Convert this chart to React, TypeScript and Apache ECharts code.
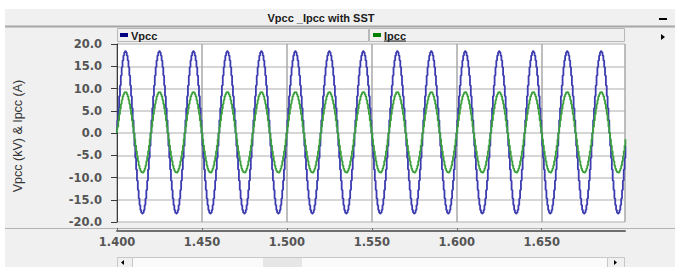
import React, { useEffect, useRef } from "react";
import * as echarts from "echarts";

// ---- data ----
const chartTitle = "Vpcc _Ipcc with SST";
const yAxisTitle = "Vpcc (kV) & Ipcc (A)";
const seriesNames = ["Vpcc", "Ipcc"];
const timeStart = 1.4; // s
const timeStep = 0.0005; // s, plot sampling step
const cycleCount = 15; // 50 Hz cycles visible between 1.400 and 1.699 s
const xMin = 1.4;
const xMax = 1.699;
const xInterval = 0.05;
const yMin = -20;
const yMax = 20;
const yInterval = 5;
// one 20 ms cycle of samples (0.5 ms apart) (identical for every cycle)
const vpccCycle = [
  0, 2.9, 5.6, 8.3, 10.7, 12.9, 14.8, 16.3, 17.4, 18.1,
  18.4, 18.1, 17.4, 16.3, 14.8, 12.9, 10.7, 8.3, 5.6, 2.9,
  0, -2.9, -5.6, -8.2, -10.7, -12.8, -14.7, -16.2, -17.3, -17.9,
  -18.1, -17.9, -17.3, -16.2, -14.7, -12.8, -10.7, -8.2, -5.6, -2.9,
];
const ipccCycle = [
  0, 1.4, 2.8, 4.2, 5.4, 6.5, 7.4, 8.2, 8.7, 9.1,
  9.2, 9.1, 8.7, 8.2, 7.4, 6.5, 5.4, 4.2, 2.8, 1.4,
  0, -1.4, -2.8, -4.1, -5.3, -6.3, -7.3, -8.0, -8.5, -8.8,
  -8.9, -8.8, -8.5, -8.0, -7.3, -6.3, -5.3, -4.1, -2.8, -1.4,
];

function buildSeries(cycle: number[]): [number, number][] {
  const out: [number, number][] = [];
  for (let c = 0; c < cycleCount; c++) {
    for (let k = 0; k < cycle.length; k++) {
      const i = c * cycle.length + k;
      out.push([+(timeStart + i * timeStep).toFixed(4), cycle[k]]);
    }
  }
  return out;
}

export default function App() {
  const ref = useRef<HTMLDivElement>(null);
  useEffect(() => {
    if (!ref.current) return;
    const chart = echarts.init(ref.current, undefined, { renderer: "svg" });
    const gL = 117, gT = 44, gW = 508, gH = 178;
    const labelFont = { fontFamily: "DejaVu Sans", fontWeight: "bold" as const, fontSize: 11.5, color: "#555555" };
    const option: any = {
      animation: false,
      backgroundColor: "#f0f0f0",
      grid: { left: gL, top: gT, width: gW, height: gH, show: true, backgroundColor: "#ffffff", borderWidth: 0 },
      xAxis: {
        type: "value",
        min: xMin,
        max: xMax,
        interval: xInterval,
        offset: 9,
        axisLine: { show: true, onZero: false, lineStyle: { color: "#6e6e6e", width: 2 } },
        axisTick: { show: true, inside: true, length: 3, lineStyle: { color: "#6e6e6e" } },
        axisLabel: { ...labelFont, margin: 5, showMaxLabel: false, formatter: (v: number) => v.toFixed(3) },
        splitLine: { show: true, lineStyle: { color: "#a8a8a8", width: 1.5 } },
      },
      yAxis: {
        type: "value",
        min: yMin,
        max: yMax,
        interval: yInterval,
        axisLine: { show: true, onZero: false, lineStyle: { color: "#3a3a3a", width: 1 } },
        axisTick: { show: true, length: 6, lineStyle: { color: "#3a3a3a" } },
        axisLabel: { ...labelFont, margin: 15, formatter: (v: number) => v.toFixed(1) },
        splitLine: { show: true, lineStyle: { color: "#c8c8c8", width: 1.5 } },
      },
      series: [
        {
          name: seriesNames[0],
          type: "line",
          step: "middle",
          showSymbol: false,
          data: buildSeries(vpccCycle),
          lineStyle: { color: "#3c3cb0", width: 1.8 },
          itemStyle: { color: "#3c3cb0" },
          z: 2,
        },
        {
          name: seriesNames[1],
          type: "line",
          step: "middle",
          showSymbol: false,
          data: buildSeries(ipccCycle),
          lineStyle: { color: "#3ca03c", width: 1.8 },
          itemStyle: { color: "#3ca03c" },
          z: 3,
        },
      ],
      graphic: [
        { type: "rect", shape: { x: 0, y: 0, width: 675, height: 9 }, style: { fill: "#ffffff" }, silent: true },
        { type: "rect", shape: { x: 0, y: 0, width: 5, height: 267 }, style: { fill: "#ffffff" }, silent: true },
        { type: "line", shape: { x1: 5, y1: 26.5, x2: 675, y2: 26.5 }, style: { stroke: "#a6a6a6", lineWidth: 2 }, silent: true },
        { type: "text", x: 321, y: 17.5, style: { text: chartTitle, font: "bold 11px 'Liberation Sans'", fill: "#1a1a1a", align: "center", verticalAlign: "middle" }, silent: true },
        { type: "rect", shape: { x: 659, y: 18, width: 8, height: 2 }, style: { fill: "#000000" }, silent: true },
        { type: "rect", shape: { x: 117.5, y: 28.5, width: 251, height: 13 }, style: { fill: "#f0f0f0", stroke: "#b8b8b8", lineWidth: 1 }, silent: true },
        { type: "rect", shape: { x: 369.5, y: 28.5, width: 255, height: 13 }, style: { fill: "#f0f0f0", stroke: "#b8b8b8", lineWidth: 1 }, silent: true },
        { type: "rect", shape: { x: 120, y: 33, width: 8, height: 4 }, style: { fill: "#000080" }, silent: true },
        { type: "text", x: 131, y: 35.5, style: { text: seriesNames[0], font: "bold 11px 'Liberation Sans'", fill: "#202020", align: "left", verticalAlign: "middle" }, silent: true },
        { type: "rect", shape: { x: 373, y: 33, width: 8, height: 4 }, style: { fill: "#008000" }, silent: true },
        { type: "text", x: 384, y: 35.5, style: { text: seriesNames[1], font: "bold 11px 'Liberation Sans'", fill: "#202020", align: "left", verticalAlign: "middle" }, silent: true },
        { type: "line", shape: { x1: 384, y1: 41, x2: 406, y2: 41 }, style: { stroke: "#202020", lineWidth: 1 }, silent: true },
        { type: "polygon", shape: { points: [[661, 34], [665, 37], [661, 40]] }, style: { fill: "#000000" }, silent: true },
        { type: "text", x: 18, y: 136, rotation: Math.PI / 2, style: { text: yAxisTitle, font: "12.5px 'Liberation Sans'", fill: "#333333", align: "center", verticalAlign: "middle" }, silent: true },
        { type: "line", shape: { x1: 5, y1: 228.5, x2: 675, y2: 228.5 }, style: { stroke: "#b4b4b4", lineWidth: 1 }, silent: true },
        { type: "rect", shape: { x: 117.5, y: 257.5, width: 507, height: 10 }, style: { fill: "#fafafa", stroke: "#c8c8c8", lineWidth: 1 }, silent: true },
        { type: "rect", shape: { x: 117.5, y: 257.5, width: 15, height: 10 }, style: { fill: "#f0f0f0", stroke: "#c8c8c8", lineWidth: 1 }, silent: true },
        { type: "rect", shape: { x: 263, y: 258, width: 39, height: 9 }, style: { fill: "#e6e6e6" }, silent: true },
        { type: "rect", shape: { x: 607.5, y: 257.5, width: 17, height: 10 }, style: { fill: "#f0f0f0", stroke: "#c8c8c8", lineWidth: 1 }, silent: true },
        { type: "polygon", shape: { points: [[124, 260], [121, 262.5], [124, 265]] }, style: { fill: "#000000" }, silent: true },
        { type: "polygon", shape: { points: [[614, 260], [617, 262.5], [614, 265]] }, style: { fill: "#000000" }, silent: true },
      ],
    };
    chart.setOption(option);
    return () => chart.dispose();
  }, []);
  return <div ref={ref} style={{ position: "absolute", left: 0, top: 0, width: 675, height: 267 }} />;
}
